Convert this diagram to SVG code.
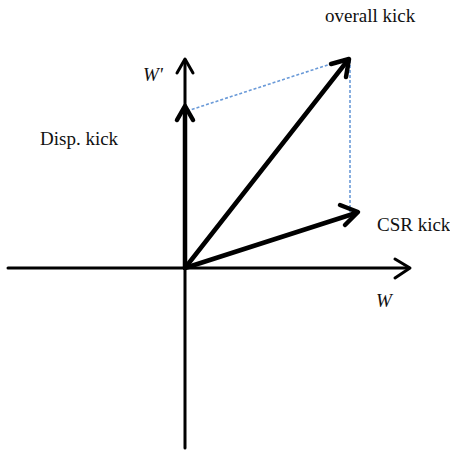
<svg xmlns="http://www.w3.org/2000/svg" width="450" height="451" viewBox="0 0 450 451">
<style>
.t{font-family:"Liberation Serif",serif;font-size:19px;fill:#111}
.i{font-style:italic}
.ax{stroke:#000;stroke-width:3;fill:none;stroke-linecap:round;stroke-linejoin:round}
.v{stroke:#000;stroke-width:4.5;fill:none;stroke-linecap:round;stroke-linejoin:round}
.d{stroke:#6a9ad8;stroke-width:1.6;fill:none;stroke-dasharray:3 2}
</style>
<rect width="450" height="451" fill="#fff"/>
<g id="connectors">
<line class="d" x1="187" y1="111" x2="349" y2="58"/>
<line class="d" x1="350" y1="60" x2="350" y2="212"/>
<g id="axis-w">
<line class="ax" x1="8" y1="268" x2="409" y2="268"/>
<polyline class="ax" points="395,259 410,268 395,278"/>
</g>
<g id="axis-wprime">
<line class="ax" x1="185" y1="448" x2="185" y2="60"/>
<polyline class="ax" points="177,73 185,59 193,73"/>
</g>
<g id="disp-vector">
<line class="v" x1="185" y1="268" x2="185" y2="107"/>
<polyline class="v" points="177,120 185,106 193,120"/>
</g>
<g id="overall-vector">
<line class="v" x1="185" y1="268" x2="348" y2="60"/>
<polyline class="v" points="331,64 349,59 346,77"/>
</g>
<g id="csr-vector">
<line class="v" x1="185" y1="268" x2="356" y2="213"/>
<polyline class="v" points="340,205 358,212 345,225"/>
</g>
</g>
<g id="labels">
<text class="t" x="325" y="22">overall kick</text>
<text class="t i" x="143" y="81">W'</text>
<text class="t" x="40" y="145">Disp. kick</text>
<text class="t" x="377" y="231">CSR kick</text>
<text class="t i" x="376" y="307">W</text>
</g>
</svg>
